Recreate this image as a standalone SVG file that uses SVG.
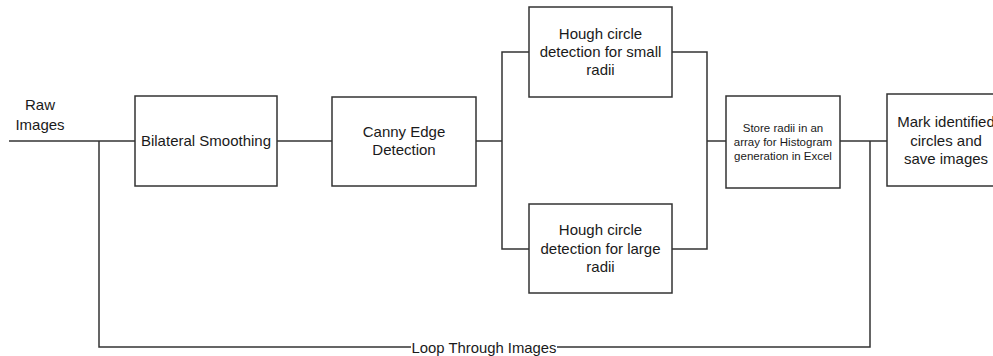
<svg xmlns="http://www.w3.org/2000/svg" width="993" height="356" viewBox="0 0 993 356">
  <style>
    .box { fill: #ffffff; stroke: #333333; stroke-width: 1.5; }
    .wire { fill: none; stroke: #333333; stroke-width: 1.5; }
    .lbl { font-family: "Liberation Sans", Arial, sans-serif; font-size: 15px; fill: #1a1a1a; text-anchor: middle; }
    .small { font-size: 11.5px; }
  </style>
  <rect width="993" height="356" fill="#ffffff"/>

  <!-- connectors -->
  <g id="connectors">
    <path class="wire" d="M9,141 H135"/>
    <path class="wire" d="M99,141 V347 H411"/>
    <path class="wire" d="M557,347 H870 V141"/>
    <path class="wire" d="M277,141 H332"/>
    <path class="wire" d="M476,141 H502"/>
    <path class="wire" d="M529,52 H502 V249 H529"/>
    <path class="wire" d="M672,52 H707 V249 H672"/>
    <path class="wire" d="M707,141 H726"/>
    <path class="wire" d="M840,141 H887"/>
  </g>

  <g id="raw-images">
    <text class="lbl" x="40" y="110">Raw</text>
    <text class="lbl" x="40" y="130">Images</text>
  </g>

  <g id="bilateral">
    <rect class="box" x="135" y="96" width="142" height="90"/>
    <text class="lbl" x="206" y="146">Bilateral Smoothing</text>
  </g>

  <g id="canny">
    <rect class="box" x="332" y="97" width="144" height="89"/>
    <text class="lbl" x="404" y="137">Canny Edge</text>
    <text class="lbl" x="404" y="155">Detection</text>
  </g>

  <g id="hough-small">
    <rect class="box" x="529" y="7" width="143" height="90"/>
    <text class="lbl" x="600.5" y="39">Hough circle</text>
    <text class="lbl" x="600.5" y="57">detection for small</text>
    <text class="lbl" x="600.5" y="75">radii</text>
  </g>

  <g id="hough-large">
    <rect class="box" x="529" y="204" width="143" height="89"/>
    <text class="lbl" x="600.5" y="235">Hough circle</text>
    <text class="lbl" x="600.5" y="254">detection for large</text>
    <text class="lbl" x="600.5" y="272">radii</text>
  </g>

  <g id="store-radii">
    <rect class="box" x="726" y="96" width="114" height="92"/>
    <text class="lbl small" x="783" y="132">Store radii in an</text>
    <text class="lbl small" x="783" y="146">array for Histogram</text>
    <text class="lbl small" x="783" y="160">generation in Excel</text>
  </g>

  <g id="mark-save">
    <rect class="box" x="887" y="94" width="120" height="92"/>
    <text class="lbl" x="946" y="127" font-size="15.5">Mark identified</text>
    <text class="lbl" x="946" y="146" font-size="15.5">circles and</text>
    <text class="lbl" x="946" y="164" font-size="15.5">save images</text>
  </g>

  <g id="loop-label">
    <text class="lbl" x="484" y="353" font-size="16" textLength="145" lengthAdjust="spacingAndGlyphs">Loop Through Images</text>
  </g>
</svg>
